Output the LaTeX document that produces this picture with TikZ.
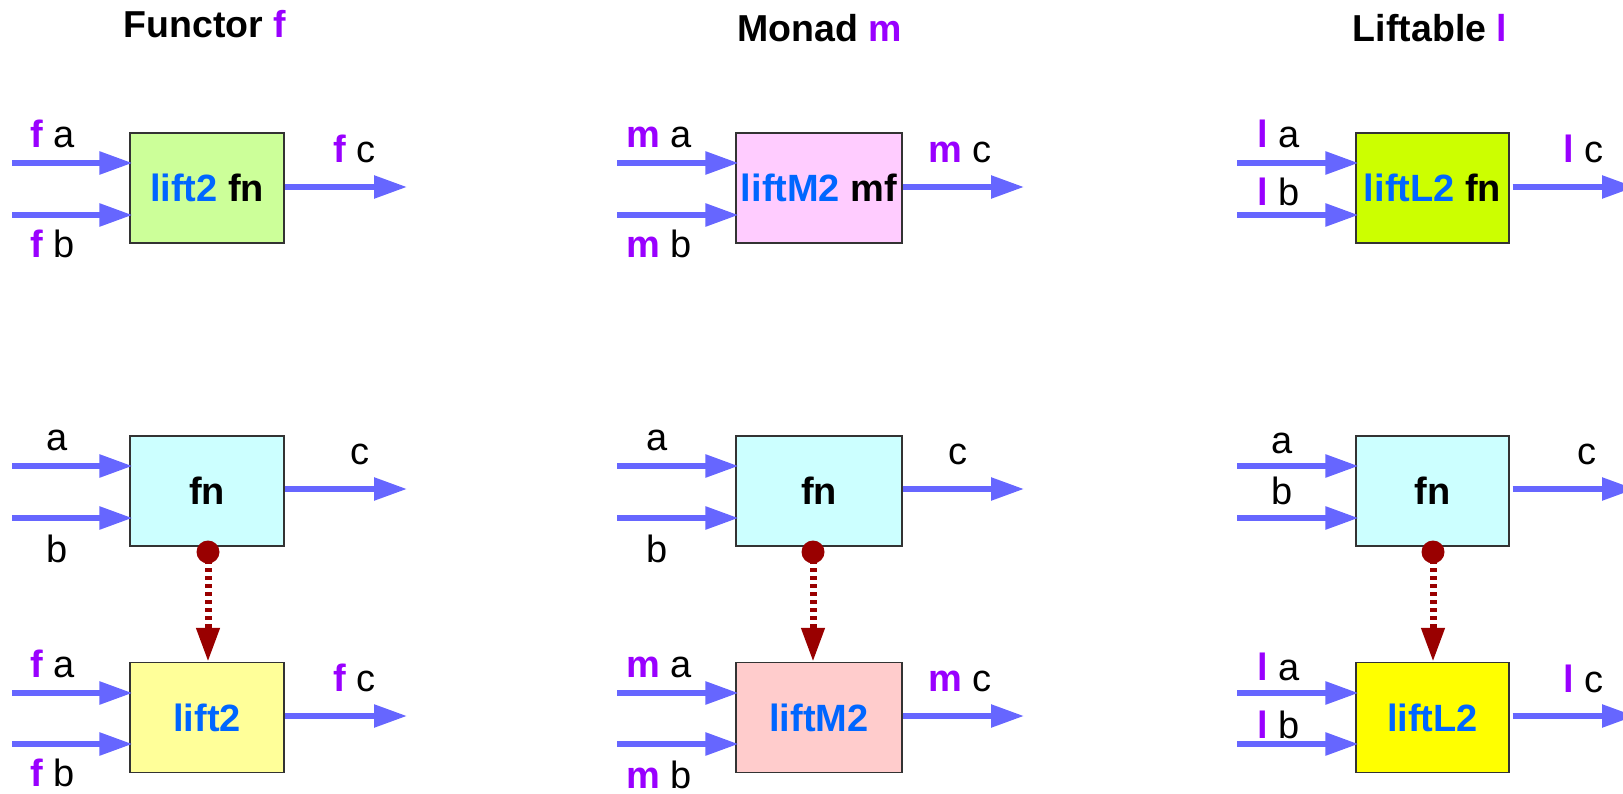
\documentclass[tikz,border=0pt]{standalone}
\usepackage{fontspec}
\setmainfont{Liberation Sans}
\usetikzlibrary{arrows.meta,calc}
\definecolor{arrowblue}{HTML}{6666FF}
\definecolor{pur}{HTML}{9900FF}
\definecolor{txtblue}{HTML}{0066FF}
\definecolor{dred}{HTML}{990000}
\definecolor{fgreen}{HTML}{CCFF99}
\definecolor{fpink}{HTML}{FFCCFF}
\definecolor{flime}{HTML}{CCFF00}
\definecolor{fcyan}{HTML}{CCFFFF}
\definecolor{fyell}{HTML}{FFFF99}
\definecolor{fsalmon}{HTML}{FFCCCC}
\definecolor{fyellow}{HTML}{FFFF00}
\newcommand{\pv}[1]{{\bfseries\color{pur}#1}}
\newcommand{\bl}[1]{{\color{txtblue}#1}}
\begin{document}
\begin{tikzpicture}[x=1pt,y=-1pt,
  every node/.style={font=\fontsize{38}{45}\selectfont, inner sep=0pt},
  box/.style={draw=black!80, line width=1.1pt, font=\fontsize{38}{45}\selectfont\bfseries, minimum height=110pt},
  lbl/.style={anchor=base west},
  clbl/.style={anchor=base},
  title/.style={anchor=base, font=\fontsize{37.5}{45}\selectfont\bfseries},
  flow/.style={line width=5.5pt, draw=arrowblue, -{Triangle[length=33pt,width=22pt]}},
  dep/.style={line width=7pt, draw=dred, dash pattern=on 3.5pt off 4.5pt, -{Triangle[length=34pt,width=22pt]}},
  dot/.style={fill=dred}
]
\useasboundingbox (0,0) rectangle (1623,794);

% titles
\node[title] (ti1) at (205,38) {Functor {\color{pur}f}};
\node[title] (ti2) at (820,42) {Monad {\color{pur}m}};
\node[title] (ti3) at (1430,42) {Liftable {\color{pur}l}};

% ---------- top row ----------
\node[box, fill=fgreen, minimum width=154pt] (t1) at (207,188) {\bl{lift2} fn};
\node[box, fill=fpink, minimum width=166pt] (t2) at (819,188) {\bl{liftM2} mf};
\node[box, fill=flime, minimum width=153pt] (t3) at (1432.5,188) {\bl{liftL2} fn};

% ---------- middle row (fn) ----------
\node[box, fill=fcyan, minimum width=154pt] (f1) at (207,491) {fn};
\node[box, fill=fcyan, minimum width=166pt] (f2) at (819,491) {fn};
\node[box, fill=fcyan, minimum width=153pt] (f3) at (1432.5,491) {fn};

% ---------- bottom row (lift) ----------
\node[box, fill=fyell, minimum width=154pt] (l1) at (207,717.5) {\bl{lift2}};
\node[box, fill=fsalmon, minimum width=166pt] (l2) at (819,717.5) {\bl{liftM2}};
\node[box, fill=fyellow, minimum width=153pt] (l3) at (1432.5,717.5) {\bl{liftL2}};

% input / output free ends
\coordinate (ta1) at (12,163);   \coordinate (tb1) at (12,215);   \coordinate (tc1) at (407,187);
\coordinate (ta2) at (617,163);  \coordinate (tb2) at (617,215);  \coordinate (tc2) at (1024,187);
\coordinate (ta3) at (1237,163); \coordinate (tb3) at (1237,215); \coordinate (tc3) at (1635,187);
\coordinate (fa1) at (12,466);   \coordinate (fb1) at (12,518);   \coordinate (fc1) at (407,489);
\coordinate (fa2) at (617,466);  \coordinate (fb2) at (617,518);  \coordinate (fc2) at (1024,489);
\coordinate (fa3) at (1237,466); \coordinate (fb3) at (1237,518); \coordinate (fc3) at (1635,489);
\coordinate (la1) at (12,693);   \coordinate (lb1) at (12,744);   \coordinate (lc1) at (407,716);
\coordinate (la2) at (617,693);  \coordinate (lb2) at (617,744);  \coordinate (lc2) at (1024,716);
\coordinate (la3) at (1237,693); \coordinate (lb3) at (1237,744); \coordinate (lc3) at (1635,716);

\foreach \r in {t,f,l}{
  \foreach \c in {1,2,3}{
    \draw[flow] (\r a\c) -- ($(\r a\c -| \r\c.west)+(3,0)$);
    \draw[flow] (\r b\c) -- ($(\r b\c -| \r\c.west)+(3,0)$);
  }
  \draw[flow] (\r c1 -| \r1.east) -- (\r c1);
  \draw[flow] (\r c2 -| \r2.east) -- (\r c2);
  \draw[flow] ($(\r c3 -| \r3.east)+(3,0)$) -- (\r c3);
}

% dependency arrows
\coordinate (d1) at (208,552);
\coordinate (d2) at (813,552);
\coordinate (d3) at (1433,552);
\foreach \c in {1,2,3}{
  \draw[dep] (d\c) -- (d\c |- l\c.north);
  \fill[dot] (d\c) circle[radius=11.5pt];
}

% labels top row
\node[lbl] (lt1a) at (30,148) {\pv{f} a};
\node[lbl] (lt1b) at (30,258) {\pv{f} b};
\node[lbl] (lt1c) at (333,163) {\pv{f} c};
\node[lbl] (lt2a) at (626,148) {\pv{m} a};
\node[lbl] (lt2b) at (626,258) {\pv{m} b};
\node[lbl] (lt2c) at (928,163) {\pv{m} c};
\node[lbl] (lt3a) at (1257,148) {\pv{l} a};
\node[lbl] (lt3b) at (1257,206) {\pv{l} b};
\node[lbl] (lt3c) at (1563,163) {\pv{l} c};

% labels fn row
\node[clbl] (lf1a) at (57,450) {a};
\node[clbl] (lf1b) at (57,562) {b};
\node[clbl] (lf1c) at (360,464) {c};
\node[clbl] (lf2a) at (657,450) {a};
\node[clbl] (lf2b) at (657,562) {b};
\node[clbl] (lf2c) at (958,464) {c};
\node[clbl] (lf3a) at (1282,453) {a};
\node[clbl] (lf3b) at (1282,504) {b};
\node[clbl] (lf3c) at (1587,464) {c};

% labels lift row
\node[lbl] (ll1a) at (30,677) {\pv{f} a};
\node[lbl] (ll1b) at (30,786) {\pv{f} b};
\node[lbl] (ll1c) at (333,691) {\pv{f} c};
\node[lbl] (ll2a) at (626,677) {\pv{m} a};
\node[lbl] (ll2b) at (626,788) {\pv{m} b};
\node[lbl] (ll2c) at (928,691) {\pv{m} c};
\node[lbl] (ll3a) at (1257,680) {\pv{l} a};
\node[lbl] (ll3b) at (1257,738) {\pv{l} b};
\node[lbl] (ll3c) at (1563,692) {\pv{l} c};
\end{tikzpicture}
\end{document}
